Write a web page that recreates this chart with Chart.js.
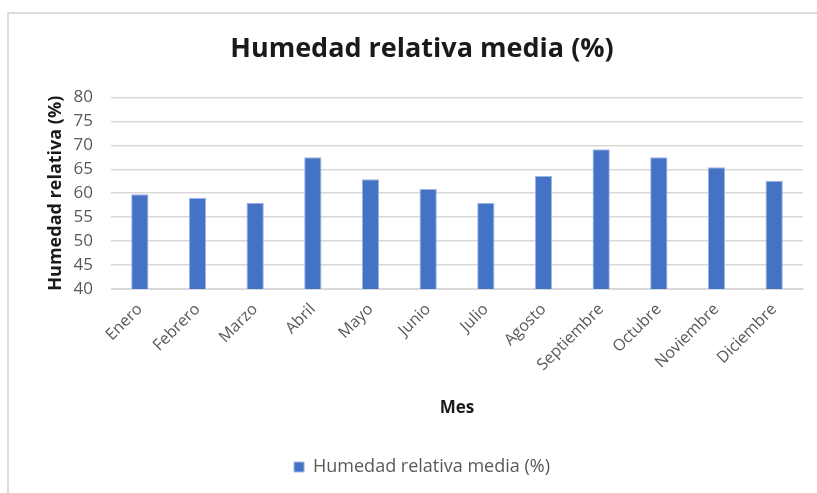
<!DOCTYPE html>
<html lang="es">
<head>
<meta charset="UTF-8">
<title>Humedad relativa media (%)</title>
<script src="https://cdn.jsdelivr.net/npm/chart.js"></script>
<style>
  html, body { margin: 0; padding: 0; background: #fff; overflow: hidden; }
  #frame {
    position: absolute; left: 7px; top: 12px; width: 840px; height: 500px;
    border-left: 2px solid #dcdcdc; border-top: 2px solid #dcdcdc;
  }
  #wrap { position: absolute; left: 0; top: 0; width: 817px; height: 493px; }
</style>
</head>
<body>
<div id="frame"></div>
<div id="wrap"><canvas id="chart"></canvas></div>
<script>
// Datos
const meses = ['Enero', 'Febrero', 'Marzo', 'Abril', 'Mayo', 'Junio', 'Julio',
               'Agosto', 'Septiembre', 'Octubre', 'Noviembre', 'Diciembre'];
const humedad = [59.8, 59.0, 58.0, 67.5, 62.9, 60.9, 58.0, 63.6, 69.2, 67.5, 65.4, 62.6];
const yMin = 40, yMax = 80, yStep = 5;

const FONT = '"Open Sans", Lato, sans-serif';
const GRIS = '#595959';

new Chart(document.getElementById('chart'), {
    type: 'bar',
    data: {
        labels: meses,
        datasets: [{
            label: 'Humedad relativa media (%)',
            data: humedad,
            backgroundColor: '#4472c4',
            borderColor: '#9db5e3',
            borderWidth: 1,
            categoryPercentage: 1,
            barPercentage: 0.3
        }]
    },
    options: {
        responsive: true,
        maintainAspectRatio: false,
        animation: false,
        layout: { padding: { left: 41, right: 14, top: 0, bottom: 7 } },
        plugins: {
            title: {
                display: true,
                text: 'Humedad relativa media (%)',
                color: '#1a1a1a',
                font: { family: FONT, size: 27, weight: 'bold' },
                padding: { top: 33, bottom: 32 }
            },
            legend: {
                position: 'bottom',
                labels: {
                    color: GRIS,
                    font: { family: FONT, size: 18 },
                    boxWidth: 10,
                    boxHeight: 10,
                    padding: 10
                }
            },
            tooltip: { enabled: false }
        },
        scales: {
            x: {
                grid: { display: false },
                border: { display: true, color: '#d9d9d9' },
                ticks: {
                    color: GRIS,
                    font: { family: FONT, size: 16 },
                    minRotation: 45,
                    maxRotation: 45,
                    autoSkip: false
                },
                title: {
                    display: true,
                    text: 'Mes',
                    color: '#1a1a1a',
                    font: { family: FONT, size: 17, weight: 'bold' },
                    padding: { top: 0, bottom: 30 }
                },
                afterFit: (s) => { s.height = 159; }
            },
            y: {
                min: yMin,
                max: yMax,
                ticks: {
                    stepSize: yStep,
                    color: GRIS,
                    font: { family: FONT, size: 17 },
                    padding: 18
                },
                grid: { color: '#d9d9d9', lineWidth: 1.5, drawTicks: false },
                border: { display: false },
                title: {
                    display: true,
                    text: 'Humedad relativa (%)',
                    color: '#1a1a1a',
                    font: { family: FONT, size: 18, weight: 'bold' },
                    padding: { top: 4, bottom: 4 }
                },
                afterFit: (s) => { s.width = 70; }
            }
        }
    }
});
</script>
</body>
</html>
